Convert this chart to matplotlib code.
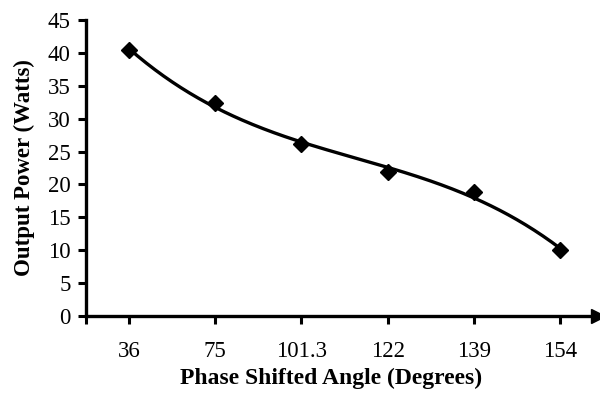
import numpy as np
import matplotlib
matplotlib.use("Agg")
import matplotlib.pyplot as plt

angles = ["36", "75", "101.3", "122", "139", "154"]
power = [40.4, 32.4, 26.1, 21.9, 18.8, 10.0]
y_ticks = [0, 5, 10, 15, 20, 25, 30, 35, 40, 45]

plt.rcParams["font.family"] = ["Liberation Serif", "DejaVu Serif"]

fig = plt.figure(figsize=(6.0, 3.98), dpi=100)
ax = fig.add_axes([0.143, 0.206, 0.854, 0.744])

x = np.arange(len(angles))

# third-order polynomial trendline through the measurements
coef = np.polyfit(x, power, 3)
xs = np.linspace(x[0], x[-1], 200)
ax.plot(xs, np.polyval(coef, xs), color="black", lw=2.4, zorder=2)
ax.plot(x, power, linestyle="none", marker="D", ms=8, color="black", zorder=3)

ax.set_xlim(-0.5, 5.44)
ax.set_ylim(0, 45)
ax.set_yticks(y_ticks)
ax.set_xticks(x)
ax.set_xticklabels(angles)
ax.set_xticks([-0.5], minor=True)

for s in ("top", "right"):
    ax.spines[s].set_visible(False)
for s in ("left", "bottom"):
    ax.spines[s].set_linewidth(2.4)

ax.tick_params(axis="both", which="both", direction="out", width=2.2, length=6,
               labelsize=16.5, color="black")
ax.tick_params(axis="x", pad=12)
ax.tick_params(axis="y", pad=5)

# arrowhead at the end of the horizontal axis
ax.plot(1, 0, ">", transform=ax.get_yaxis_transform(), clip_on=False,
        color="black", ms=10)

ax.set_xlabel("Phase Shifted Angle (Degrees)", fontsize=17, fontweight="bold")
ax.xaxis.set_label_coords(0.478, -0.175)
ax.set_ylabel("Output Power (Watts)", fontsize=16.5, fontweight="bold",
              labelpad=9)

fig.savefig("out.png", dpi=100)
